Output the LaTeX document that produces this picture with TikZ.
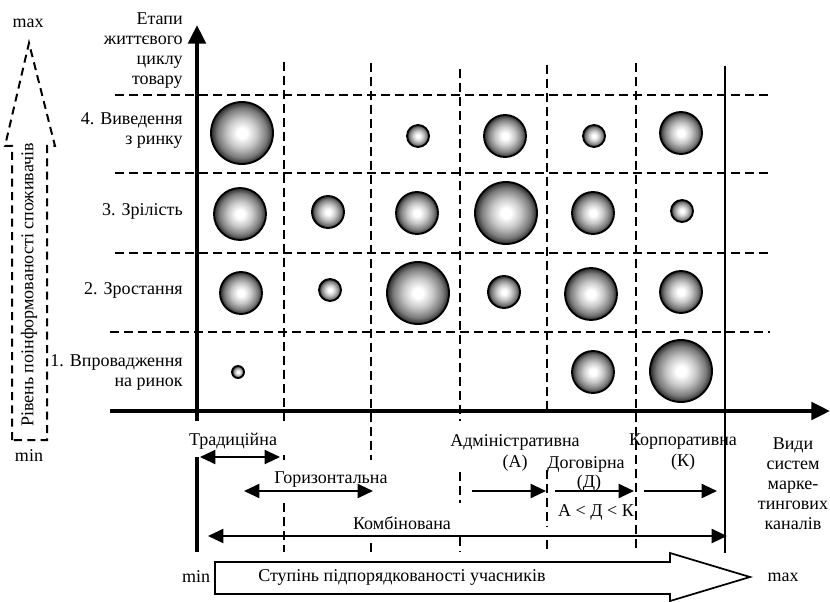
\documentclass[tikz,border=0pt]{standalone}
\usepackage{fontspec}
\setmainfont{Liberation Serif}
\usetikzlibrary{arrows.meta}
% glossy grey ball used for the bubbles
\pgfdeclareradialshading{ballgrey}{\pgfpoint{0bp}{0bp}}{%
  color(0bp)=(white); color(4bp)=(white); color(12bp)=(black!22);
  color(20bp)=(black!52); color(25bp)=(black!84); color(50bp)=(black!84)}
\begin{document}
\begin{tikzpicture}[x=0.75pt,y=-0.75pt,
  lbl/.style={font=\fontsize{13.5}{15}\selectfont, inner sep=0pt},
  gridline/.style={line width=1.5pt, dash pattern=on 6.5pt off 4pt},
  axis/.style={line width=3pt, -{Triangle[width=13pt,length=14pt]}},
  rng/.style={line width=1.5pt, {Triangle[width=10.5pt,length=11.5pt]}-{Triangle[width=10.5pt,length=11.5pt]}},
  fwd/.style={line width=1.5pt, -{Triangle[width=10.5pt,length=11.5pt]}},
  bubble/.style={draw, line width=1.4pt, shading=ballgrey}]
\useasboundingbox (0,0) rectangle (830,602);

% ---- grid of stages (horizontal dashed lines)
\foreach \y in {95,173,253}
  \draw[gridline] (115,\y) -- (770,\y);
\draw[gridline] (110,332) -- (770,332);

% ---- vertical dashed separators (with gaps under the labels)
\foreach \x/\a/\b in {284/62/422, 284/455/460, 284/503/552,
                      371/63/460, 371/543/552,
                      460/69/421, 460/472/503, 460/537/552,
                      547/65/413, 547/470/527, 547/540/552,
                      636/63/552}
  \draw[gridline] (\x,\a) -- (\x,\b);
\draw[line width=1.5pt] (725,66) -- (725,553);

% ---- axes
\coordinate (yb) at (197,421);
\coordinate (yt) at (197,25);
\coordinate (xl) at (110,411);
\coordinate (xr) at (830,411);
\draw[axis] (yb) -- (yt);
\draw[axis] (xl) -- (xr);

% ---- bubbles
\foreach \x/\y/\r in {242/133/31, 418/136/11, 505/136/21, 594/136/11, 681/133/21,
                      240/214/26, 328/212/16, 417/213/21, 506/213/31, 593/213/21, 682/211/11,
                      241/293/21, 330/290/11, 418/293/31, 504/292/16, 591/294/26, 681/292/21,
                      238/372/6, 593/372/21, 681/371/31}
  \path[bubble] (\x,\y) circle[radius=\r];

% ---- stage labels
\node[lbl, align=right, anchor=east] (stages) at (183,51) {Етапи\\життєвого\\циклу\\товару};
\node[lbl, align=right, anchor=east] (s4) at (183,131) {4. Виведення\\з ринку};
\node[lbl, anchor=east] (s3) at (183,211) {3. Зрілість};
\node[lbl, anchor=east] (s2) at (183,290) {2. Зростання};
\node[lbl, align=right, anchor=east] (s1) at (183,372) {1. Впровадження\\на ринок};

% ---- consumer awareness scale (dashed upward arrow)
\draw[line width=1.5pt, dash pattern=on 6pt off 4pt]
  (12,440) -- (12,146) -- (5,146) -- (29,43) -- (55,146) -- (47,146) -- (47,440) -- cycle;
\node[lbl, rotate=90] (aware) at (29,285) {Рівень поінформованості споживачів};
\node[lbl] (amax) at (28,23) {max};
\node[lbl] (amin) at (29,456) {min};

% ---- channel system labels and ranges
\node[lbl] (trad) at (233,441) {Традиційна};
\coordinate (trA) at (200,457);
\coordinate (trB) at (280,457);
\draw[rng] (trA) -- (trB);
\draw[line width=3pt] (197,457) -- (197,552);

\node[lbl] (hor) at (331,480) {Горизонтальна};
\coordinate (hoA) at (244,491);
\coordinate (hoB) at (373,491);
\draw[rng] (hoA) -- (hoB);

\node[lbl] (comb) at (402,523) {Комбінована};
\coordinate (coA) at (208,536);
\coordinate (coB) at (727,536);
\draw[rng] (coA) -- (coB);

\node[lbl] (adm) at (515,442) {Адміністративна};
\node[lbl] (admA) at (515,463) {(А)};
\coordinate (adA) at (472,491);
\coordinate (adB) at (546,491);
\draw[fwd] (adA) -- (adB);

\node[lbl] (dog) at (586,464) {Договірна};
\node[lbl] (dogD) at (589,483) {(Д)};
\coordinate (dgA) at (555,491);
\coordinate (dgB) at (634,491);
\draw[fwd] (dgA) -- (dgB);

\node[lbl] (corp) at (683,442) {Корпоративна};
\node[lbl] (corpK) at (683,462) {(К)};
\coordinate (cpA) at (644,491);
\coordinate (cpB) at (717,491);
\draw[fwd] (cpA) -- (cpB);

\node[lbl] (order) at (596,512) {А < Д < К};

\node[lbl, align=center] (kinds) at (793,484) {Види\\систем\\марке-\\тингових\\каналів};

% ---- subordination scale (wide outlined arrow)
\draw[line width=1.3pt]
  (215,562) -- (670,562) -- (670,553) -- (750,577) -- (670,601) -- (670,594) -- (215,594) -- cycle;
\node[lbl, anchor=west] (subord) at (258,577) {Ступінь підпорядкованості учасників};
\node[lbl] (smin) at (196,577) {min};
\node[lbl] (smax) at (783,577) {max};
\end{tikzpicture}
\end{document}
